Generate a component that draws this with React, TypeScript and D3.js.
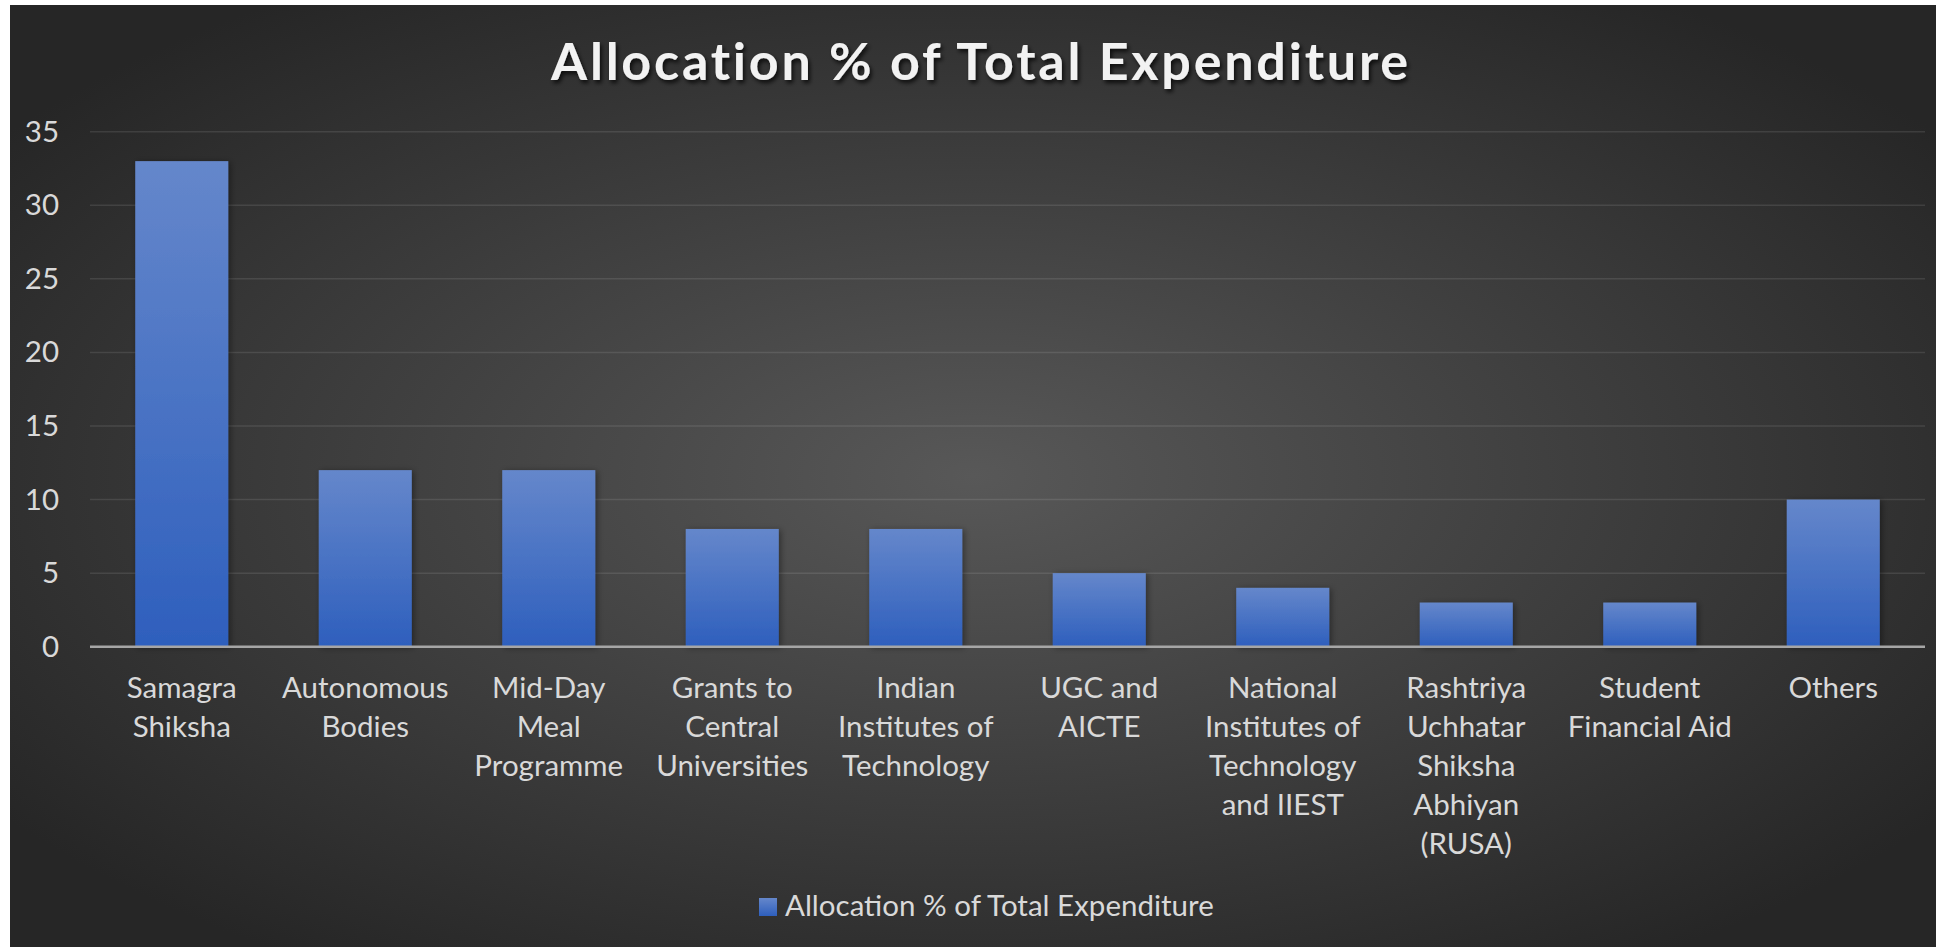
import React from "react";
import * as d3 from "d3";

const TITLE = "Allocation % of Total Expenditure";
const SERIES_NAME = "Allocation % of Total Expenditure";
const categories: string[] = [
  "Samagra\nShiksha",
  "Autonomous\nBodies",
  "Mid-Day\nMeal\nProgramme",
  "Grants to\nCentral\nUniversities",
  "Indian\nInstitutes of\nTechnology",
  "UGC and\nAICTE",
  "National\nInstitutes of\nTechnology\nand IIEST",
  "Rashtriya\nUchhatar\nShiksha\nAbhiyan\n(RUSA)",
  "Student\nFinancial Aid",
  "Others",
];
const values: number[] = [33, 12, 12, 8, 8, 5, 4, 3, 3, 10];
const yTicks: number[] = [0, 5, 10, 15, 20, 25, 30, 35];

const W = 1936;
const H = 947;
const FONT = "Lato, 'Open Sans', sans-serif";

export default function App() {
  const x = d3
    .scaleBand<number>()
    .domain(d3.range(categories.length))
    .range([90, 1925])
    .paddingInner(0.493)
    .paddingOuter(0.2465);
  const y = d3.scaleLinear().domain([0, 35]).range([646.7, 131.7]);

  return (
    <svg
      width={W}
      height={H}
      style={{ position: "absolute", left: 0, top: 0 }}
    >
      <defs>
        <radialGradient id="bg" cx="0.5" cy="0.5" r="0.62">
          <stop offset="0" stopColor="#585858" />
          <stop offset="1" stopColor="#262626" />
        </radialGradient>
        <linearGradient id="bar" x1="0" y1="0" x2="0" y2="1">
          <stop offset="0" stopColor="#6587cb" />
          <stop offset="1" stopColor="#2e5fbd" />
        </linearGradient>
        <filter id="tshadow" x="-10%" y="-30%" width="120%" height="160%">
          <feDropShadow dx="2" dy="3" stdDeviation="2" floodColor="#000" floodOpacity="0.75" />
        </filter>
        <filter id="bshadow" x="-20%" y="-20%" width="140%" height="140%">
          <feDropShadow dx="2" dy="1" stdDeviation="3" floodColor="#000" floodOpacity="0.4" />
        </filter>
      </defs>
      <rect x={0} y={0} width={W} height={H} fill="#ffffff" />
      <rect x={10} y={5} width={W - 10} height={H - 5} fill="url(#bg)" />

      <text
        x={981}
        y={80}
        textAnchor="middle"
        fill="#f2f2f2"
        fontFamily={FONT}
        fontWeight="bold"
        fontSize={52}
        letterSpacing={2.8}
        filter="url(#tshadow)"
      >
        {TITLE}
      </text>

      {yTicks.map((t) => (
        <g key={t}>
          {t !== 0 && (
            <line
              x1={90}
              x2={1925}
              y1={y(t)}
              y2={y(t)}
              stroke="#ffffff"
              strokeOpacity={0.1}
              strokeWidth={1.5}
            />
          )}
          <text
            x={59}
            y={y(t) + 10}
            textAnchor="end"
            fill="#d9d9d9"
            fontFamily={FONT}
            fontSize={29.5}
          >
            {t}
          </text>
        </g>
      ))}

      {values.map((v, i) => (
        <rect
          key={i}
          x={x(i)}
          y={y(v)}
          width={x.bandwidth()}
          height={y(0) - y(v)}
          fill="url(#bar)"
          filter="url(#bshadow)"
        />
      ))}

      <line x1={90} x2={1925} y1={y(0)} y2={y(0)} stroke="#a6a6a6" strokeWidth={2.5} />

      {categories.map((c, i) => {
        const cx = (x(i) as number) + x.bandwidth() / 2;
        return (
          <text
            key={i}
            textAnchor="middle"
            fill="#d9d9d9"
            fontFamily={FONT}
            fontSize={29.5}
          >
            {c.split("\n").map((line, j) => (
              <tspan key={j} x={cx} y={698 + j * 39}>
                {line}
              </tspan>
            ))}
          </text>
        );
      })}

      <rect x={759} y={898} width={18} height={18} fill="url(#bar)" />
      <text x={785} y={916} fill="#d9d9d9" fontFamily={FONT} fontSize={29.5}>
        {SERIES_NAME}
      </text>
    </svg>
  );
}
